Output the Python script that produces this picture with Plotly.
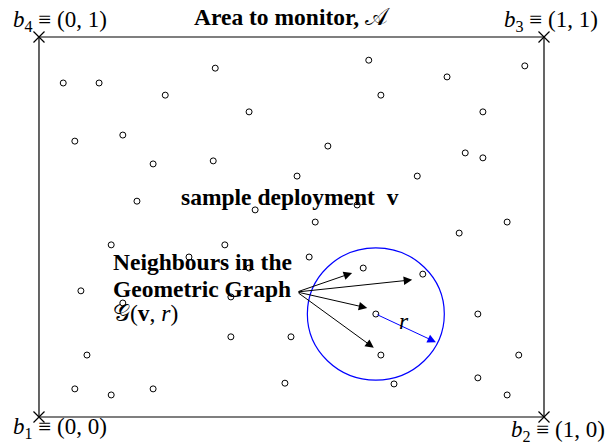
import plotly.graph_objects as go

# Deployment points (unit square coordinates)
pts_x = [0.048, 0.119, 0.250, 0.349, 0.416, 0.071, 0.166, 0.653, 0.962, 0.808,
         0.677, 0.879, 0.572, 0.226, 0.345, 0.511, 0.194, 0.428, 0.143, 0.368,
         0.297, 0.416, 0.083, 0.844, 0.879, 0.749, 0.630, 0.547, 0.927, 0.832,
         0.535, 0.642, 0.760, 0.166, 0.380, 0.499, 0.095, 0.071, 0.143, 0.226,
         0.487, 0.667, 0.869, 0.950, 0.677, 0.869, 0.927, 0.703, 0.380]
pts_y = [0.879, 0.879, 0.847, 0.918, 0.803, 0.726, 0.742, 0.939, 0.924, 0.895,
         0.847, 0.803, 0.713, 0.666, 0.674, 0.634, 0.568, 0.545, 0.453, 0.453,
         0.421, 0.392, 0.332, 0.695, 0.682, 0.634, 0.558, 0.513, 0.513, 0.484,
         0.421, 0.392, 0.376, 0.300, 0.211, 0.211, 0.163, 0.074, 0.058, 0.074,
         0.089, 0.271, 0.271, 0.163, 0.163, 0.103, 0.058, 0.087, 0.316]

# Corners of the area
corner_x = [0, 1, 1, 0]
corner_y = [0, 0, 1, 1]
corner_labels = ["<i>b</i><sub>1</sub> ≡ (0, 0)",
                 "<i>b</i><sub>2</sub> ≡ (1, 0)",
                 "<i>b</i><sub>3</sub> ≡ (1, 1)",
                 "<i>b</i><sub>4</sub> ≡ (0, 1)"]
corner_label_x = [0.042, 1.028, 1.014, 0.042]
corner_label_y = [-0.028, -0.036, 1.041, 1.041]

# Neighbourhood: centre node, radius (x / y units), arrow source and targets
center = (0.667, 0.271)
radius_x, radius_y = 0.1356, 0.174
arrow_src = (0.511, 0.329)
arrow_tip_x = [0.620, 0.739, 0.650, 0.663]
arrow_tip_y = [0.379, 0.361, 0.287, 0.182]
radius_tip = (0.786, 0.197)

FONT = "Liberation Serif"
FS = 23.5

fig = go.Figure()
fig.add_trace(go.Scatter(x=pts_x, y=pts_y, mode="markers",
                         marker=dict(symbol="circle-open", size=6, color="black",
                                     line=dict(width=1, color="black")),
                         hoverinfo="skip", showlegend=False))
fig.add_trace(go.Scatter(x=corner_x, y=corner_y, mode="markers",
                         marker=dict(symbol="x-thin", size=11,
                                     line=dict(width=1.2, color="black")),
                         hoverinfo="skip", showlegend=False))

fig.add_shape(type="rect", x0=0, y0=0, x1=1, y1=1, xref="x", yref="y",
              line=dict(color="black", width=1.2))
fig.add_shape(type="circle", xref="x", yref="y",
              x0=center[0] - radius_x, x1=center[0] + radius_x,
              y0=center[1] - radius_y, y1=center[1] + radius_y,
              line=dict(color="#0000ff", width=1.2))

annotations = []
for tx, ty in zip(arrow_tip_x, arrow_tip_y):
    annotations.append(dict(x=tx, y=ty, ax=arrow_src[0], ay=arrow_src[1],
                            xref="x", yref="y", axref="x", ayref="y",
                            showarrow=True, arrowhead=2, arrowsize=1.7,
                            arrowwidth=1, arrowcolor="black", text=""))
annotations.append(dict(x=radius_tip[0], y=radius_tip[1], ax=center[0], ay=center[1],
                        xref="x", yref="y", axref="x", ayref="y",
                        showarrow=True, arrowhead=2, arrowsize=1.7,
                        arrowwidth=1, arrowcolor="#0000ff", text=""))

for lx, ly, lt in zip(corner_label_x, corner_label_y, corner_labels):
    annotations.append(dict(x=lx, y=ly, xref="x", yref="y", text=lt,
                            showarrow=False, font=dict(family=FONT, size=FS - 0.5, color="black")))

texts = [
    (0.501, 1.052, "<b>Area to monitor,</b> 𝒜", "center"),
    (0.497, 0.579, "<b>sample deployment</b>  <b>v</b>", "center"),
    (0.142, 0.408, "<b>Neighbours in the</b>", "left"),
    (0.142, 0.337, "<b>Geometric Graph</b>", "left"),
    (0.142, 0.274, "𝒢(<b>v</b>, <i>r</i>)", "left"),
    (0.723, 0.253, "<i>r</i>", "center"),
]
for x, y, t, anc in texts:
    annotations.append(dict(x=x, y=y, xref="x", yref="y", text=t, xanchor=anc,
                            yanchor="middle", showarrow=False,
                            font=dict(family=FONT, size=FS, color="black")))

fig.update_layout(
    width=609, height=445,
    margin=dict(l=0, r=0, t=0, b=0),
    paper_bgcolor="white", plot_bgcolor="white",
    xaxis=dict(range=[-0.0772, 1.1287], visible=False, fixedrange=True),
    yaxis=dict(range=[-0.0737, 1.0974], visible=False, fixedrange=True),
    annotations=annotations,
    showlegend=False,
)
fig.write_html("out.html")
